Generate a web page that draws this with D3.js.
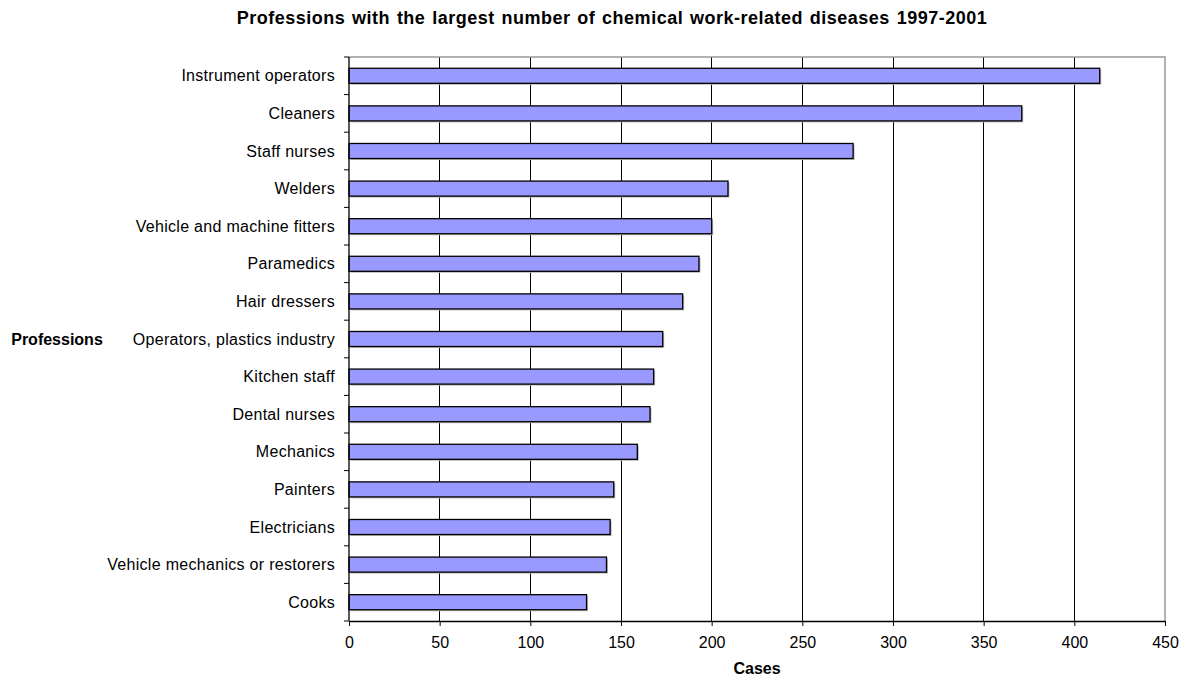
<!DOCTYPE html>
<html>
<head>
<meta charset="utf-8">
<script src="https://cdn.jsdelivr.net/npm/d3@7"></script>
<style>
  body { margin: 0; background: #fff; }
  svg { display: block; font-family: Arial, "Liberation Sans", sans-serif; }
</style>
</head>
<body>
<svg id="chart" width="1190" height="679"></svg>
<script>
// Professions with the most chemical work-related disease cases, 1997-2001
const professions = [
  "Instrument operators",
  "Cleaners",
  "Staff nurses",
  "Welders",
  "Vehicle and machine fitters",
  "Paramedics",
  "Hair dressers",
  "Operators, plastics industry",
  "Kitchen staff",
  "Dental nurses",
  "Mechanics",
  "Painters",
  "Electricians",
  "Vehicle mechanics or restorers",
  "Cooks"
];
const cases = [414, 371, 278, 209, 200, 193, 184, 173, 168, 166, 159, 146, 144, 142, 131];
const xTicks = [0, 50, 100, 150, 200, 250, 300, 350, 400, 450];

const svg = d3.select("#chart");
const plot = { left: 349, right: 1165, top: 57, bottom: 621 };
const FONT = "Arial, 'Liberation Sans', sans-serif";

const x = d3.scaleLinear().domain([0, 450]).range([plot.left, plot.right]);
const y = d3.scaleBand().domain(professions).range([plot.top, plot.bottom])
  .paddingInner(0.6).paddingOuter(0.3);
const yEdges = d3.scaleBand().domain(professions).range([plot.top, plot.bottom]);

// Title
svg.append("text")
  .attr("x", 612).attr("y", 24)
  .attr("text-anchor", "middle")
  .attr("font-size", 18).attr("font-weight", "bold")
  .attr("letter-spacing", 0.5)
  .attr("word-spacing", 1.3)
  .text("Professions with the largest number of chemical work-related diseases 1997-2001");

// Vertical gridlines
svg.append("g")
  .selectAll("line")
  .data(xTicks.slice(1, -1))
  .join("line")
  .attr("x1", d => x(d)).attr("x2", d => x(d))
  .attr("y1", plot.top).attr("y2", plot.bottom)
  .attr("stroke", "#000").attr("stroke-width", 1)
  .attr("shape-rendering", "crispEdges");

// Plot border (right and top)
svg.append("path")
  .attr("d", `M${plot.left},${plot.top}H${plot.right}V${plot.bottom}`)
  .attr("fill", "none").attr("stroke", "#999").attr("stroke-width", 1.5);

// Bar shadows
svg.append("g")
  .selectAll("rect")
  .data(professions)
  .join("rect")
  .attr("x", x(0) + 1.5)
  .attr("y", d => y(d) + 1.5)
  .attr("width", (d, i) => x(cases[i]) - x(0))
  .attr("height", y.bandwidth())
  .attr("fill", "#bbb");

// Bars
svg.append("g")
  .selectAll("rect")
  .data(professions)
  .join("rect")
  .attr("x", x(0))
  .attr("y", d => y(d))
  .attr("width", (d, i) => x(cases[i]) - x(0))
  .attr("height", y.bandwidth())
  .attr("fill", "#9999ff")
  .attr("stroke", "#000").attr("stroke-width", 1.3);

// X axis
const xAxis = svg.append("g")
  .attr("transform", `translate(0,${plot.bottom})`)
  .call(d3.axisBottom(x).tickValues(xTicks).tickSize(5).tickPadding(11).tickSizeOuter(0));
xAxis.select(".domain").attr("stroke", "#000").attr("stroke-width", 1.3);
xAxis.selectAll(".tick line").attr("stroke", "#000");
xAxis.selectAll("text").attr("font-size", 16).attr("fill", "#000")
  .attr("font-family", FONT);

// Y axis line with ticks between categories
const yG = svg.append("g");
yG.append("line")
  .attr("x1", plot.left).attr("x2", plot.left)
  .attr("y1", plot.top).attr("y2", plot.bottom)
  .attr("stroke", "#000").attr("stroke-width", 1.3);
yG.selectAll("line.tick")
  .data(professions.concat([null]))
  .join("line")
  .attr("class", "tick")
  .attr("x1", plot.left - 5).attr("x2", plot.left)
  .attr("y1", d => d === null ? plot.bottom : yEdges(d))
  .attr("y2", d => d === null ? plot.bottom : yEdges(d))
  .attr("stroke", "#000").attr("stroke-width", 1);

// Category labels
yG.selectAll("text")
  .data(professions)
  .join("text")
  .attr("x", plot.left - 14)
  .attr("y", d => y(d) + y.bandwidth() / 2)
  .attr("dy", "0.35em")
  .attr("text-anchor", "end")
  .attr("font-size", 16)
  .attr("letter-spacing", 0.3)
  .text(d => d);

// Axis titles
svg.append("text")
  .attr("x", 757).attr("y", 674)
  .attr("text-anchor", "middle")
  .attr("font-size", 16).attr("font-weight", "bold")
  .text("Cases");

svg.append("text")
  .attr("x", 57).attr("y", 339)
  .attr("dy", "0.35em")
  .attr("text-anchor", "middle")
  .attr("font-size", 16).attr("font-weight", "bold")
  .text("Professions");
</script>
</body>
</html>
